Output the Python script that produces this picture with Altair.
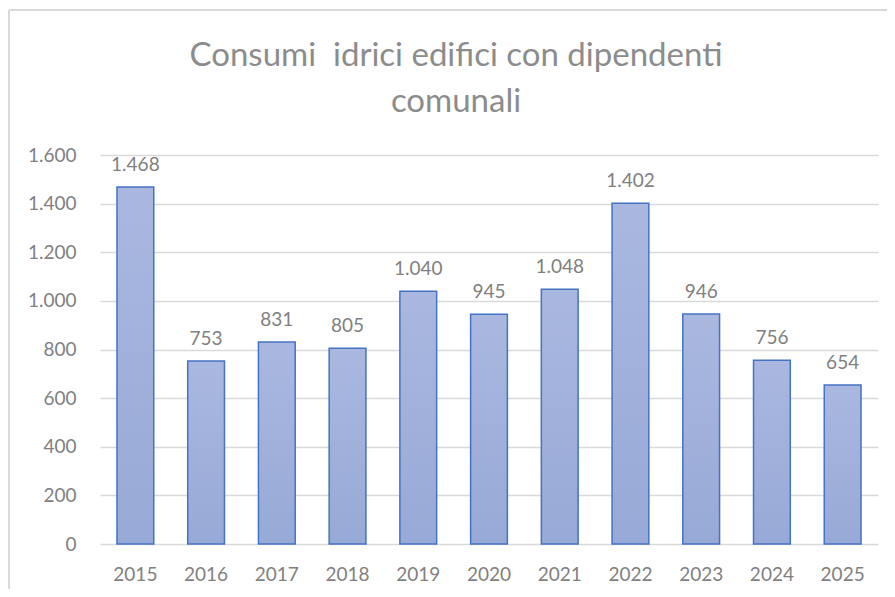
import altair as alt
import pandas as pd

years = ["2015", "2016", "2017", "2018", "2019", "2020", "2021", "2022", "2023", "2024", "2025"]
values = [1468, 753, 831, 805, 1040, 945, 1048, 1402, 946, 756, 654]
title_text = "Consumi\u00a0 idrici edifici con dipendenti\ncomunali"

df = pd.DataFrame({"anno": years, "consumo": values})
tdf = pd.DataFrame({"t": [title_text]})

FONT = "Lato"
GREY = "#808080"

x_enc = alt.X("anno:N", sort=years, title=None,
              scale=alt.Scale(paddingInner=0.48, paddingOuter=0.24),
              axis=alt.Axis(labelAngle=0, labelFontSize=19, labelColor=GREY, labelFont=FONT,
                            labelPadding=21, ticks=False, domain=False, grid=False))
y_enc = alt.Y("consumo:Q", title=None,
              scale=alt.Scale(domain=[0, 1600], nice=False),
              axis=alt.Axis(values=[0, 200, 400, 600, 800, 1000, 1200, 1400, 1600],
                            labelExpr="replace(format(datum.value, ','), ',', '.')",
                            labelFontSize=19, labelColor=GREY, labelFont=FONT, labelPadding=24,
                            ticks=False, domain=False, gridColor="#D9D9D9", gridWidth=1.5))

bars = alt.Chart(df).mark_bar(
    color=alt.Gradient(gradient="linear",
                       stops=[alt.GradientStop(color="#AAB8E0", offset=0),
                              alt.GradientStop(color="#97A9D6", offset=1)],
                       x1=0, x2=0, y1=0, y2=1),
    stroke="#4472C4", strokeWidth=1.5
).encode(x=x_enc, y=y_enc)

labels = alt.Chart(df).transform_calculate(
    lab="replace(format(datum.consumo, ','), ',', '.')"
).mark_text(baseline="bottom", dy=-12, fontSize=19, color=GREY, font=FONT).encode(
    x=alt.X("anno:N", sort=years), y="consumo:Q", text="lab:N")

title = alt.Chart(tdf).mark_text(
    fontSize=33, font=FONT, fontWeight="normal", color="#8C8C8C", align="center", baseline="alphabetic",
    lineBreak="\n", lineHeight=46, clip=False
).encode(x=alt.value(356), y=alt.value(-89), text="t:N")

frame = alt.Chart(df).mark_rule(color="#D9D9D9", strokeWidth=1.5, clip=False).encode(
    x=alt.value(-91), y=alt.value(-145), y2=alt.value(500))
frame_top = alt.Chart(df).mark_rule(color="#D9D9D9", strokeWidth=1.5, clip=False).encode(
    x=alt.value(-91), x2=alt.value(800), y=alt.value(-145))

chart = alt.layer(frame, frame_top, title, bars, labels).properties(
    width=778, height=389,
    autosize=alt.AutoSizeParams(type="none"),
    padding={"left": 92, "top": 147, "right": 9, "bottom": 45},
).configure_view(stroke=None)

chart.save("out.html", embed_options={"renderer": "svg", "actions": False})
